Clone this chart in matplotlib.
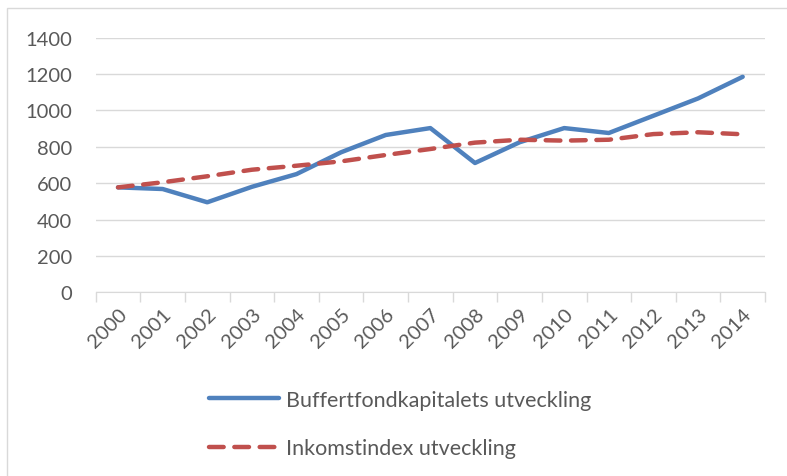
import matplotlib
matplotlib.use("Agg")
import matplotlib.pyplot as plt
from matplotlib.patches import Rectangle

# data
years = ["2000", "2001", "2002", "2003", "2004", "2005", "2006", "2007",
         "2008", "2009", "2010", "2011", "2012", "2013", "2014"]
buffert = [577, 568, 495, 580, 650, 770, 865, 903, 711, 825, 903, 876, 971, 1066, 1185]
inkomst = [577, 605, 638, 674, 696, 720, 755, 788, 823, 839, 834, 839, 870, 880, 869]

blue = "#4F81BD"
red = "#C0504D"
txt = "#595959"
grid = "#D9D9D9"

plt.rcParams['font.family'] = ['Lato', 'DejaVu Sans']

fig = plt.figure(figsize=(7.87, 4.77), dpi=100)
ax = fig.add_axes([95.7/787, 1-293.3/477, (765-95.7)/787, (293.3-38.7)/477])

x = list(range(len(years)))
ax.plot(x, buffert, color=blue, lw=3.2, solid_capstyle='round', solid_joinstyle='round',
        label="Buffertfondkapitalets utveckling", zorder=3)
ax.plot(x, inkomst, color=red, lw=3.2, dashes=(3.3, 2.4), dash_capstyle='round',
        label="Inkomstindex utveckling", zorder=3)

ax.set_xlim(-0.5, len(years)-0.5)
ax.set_ylim(0, 1400)
ax.set_yticks(range(0, 1401, 200))
ax.tick_params(axis='y', length=0, pad=17, labelsize=14.5, labelcolor=txt)
ax.yaxis.grid(True, color=grid, lw=1)
ax.set_axisbelow(True)

# ticks between categories, labels on the categories
ax.set_xticks(x)
ax.set_xticklabels(years, rotation=45, ha='right', va='top', rotation_mode='anchor')
ax.tick_params(axis='x', which='major', length=0, pad=9, labelsize=14.5, labelcolor=txt)
ax.set_xticks([i-0.5 for i in range(len(years)+1)], minor=True)
ax.tick_params(axis='x', which='minor', length=7, width=1, color=grid)

for s in ['top', 'right', 'left']:
    ax.spines[s].set_visible(False)
ax.spines['bottom'].set_color(grid)

leg = fig.legend(loc='center left', bbox_to_anchor=(209/787, 1-425/477),
                 frameon=False, fontsize=15.5, handlelength=3.25, handletextpad=0.33,
                 labelspacing=1.33, borderpad=0, borderaxespad=0, labelcolor=txt)

# outer chart border (only left and top show in the crop)
fig.patches.append(Rectangle((7/787, -0.1), 1.1, 1-9/477+0.1, transform=fig.transFigure,
                             fill=False, edgecolor=grid, lw=1))

fig.savefig("out.png", dpi=100)
